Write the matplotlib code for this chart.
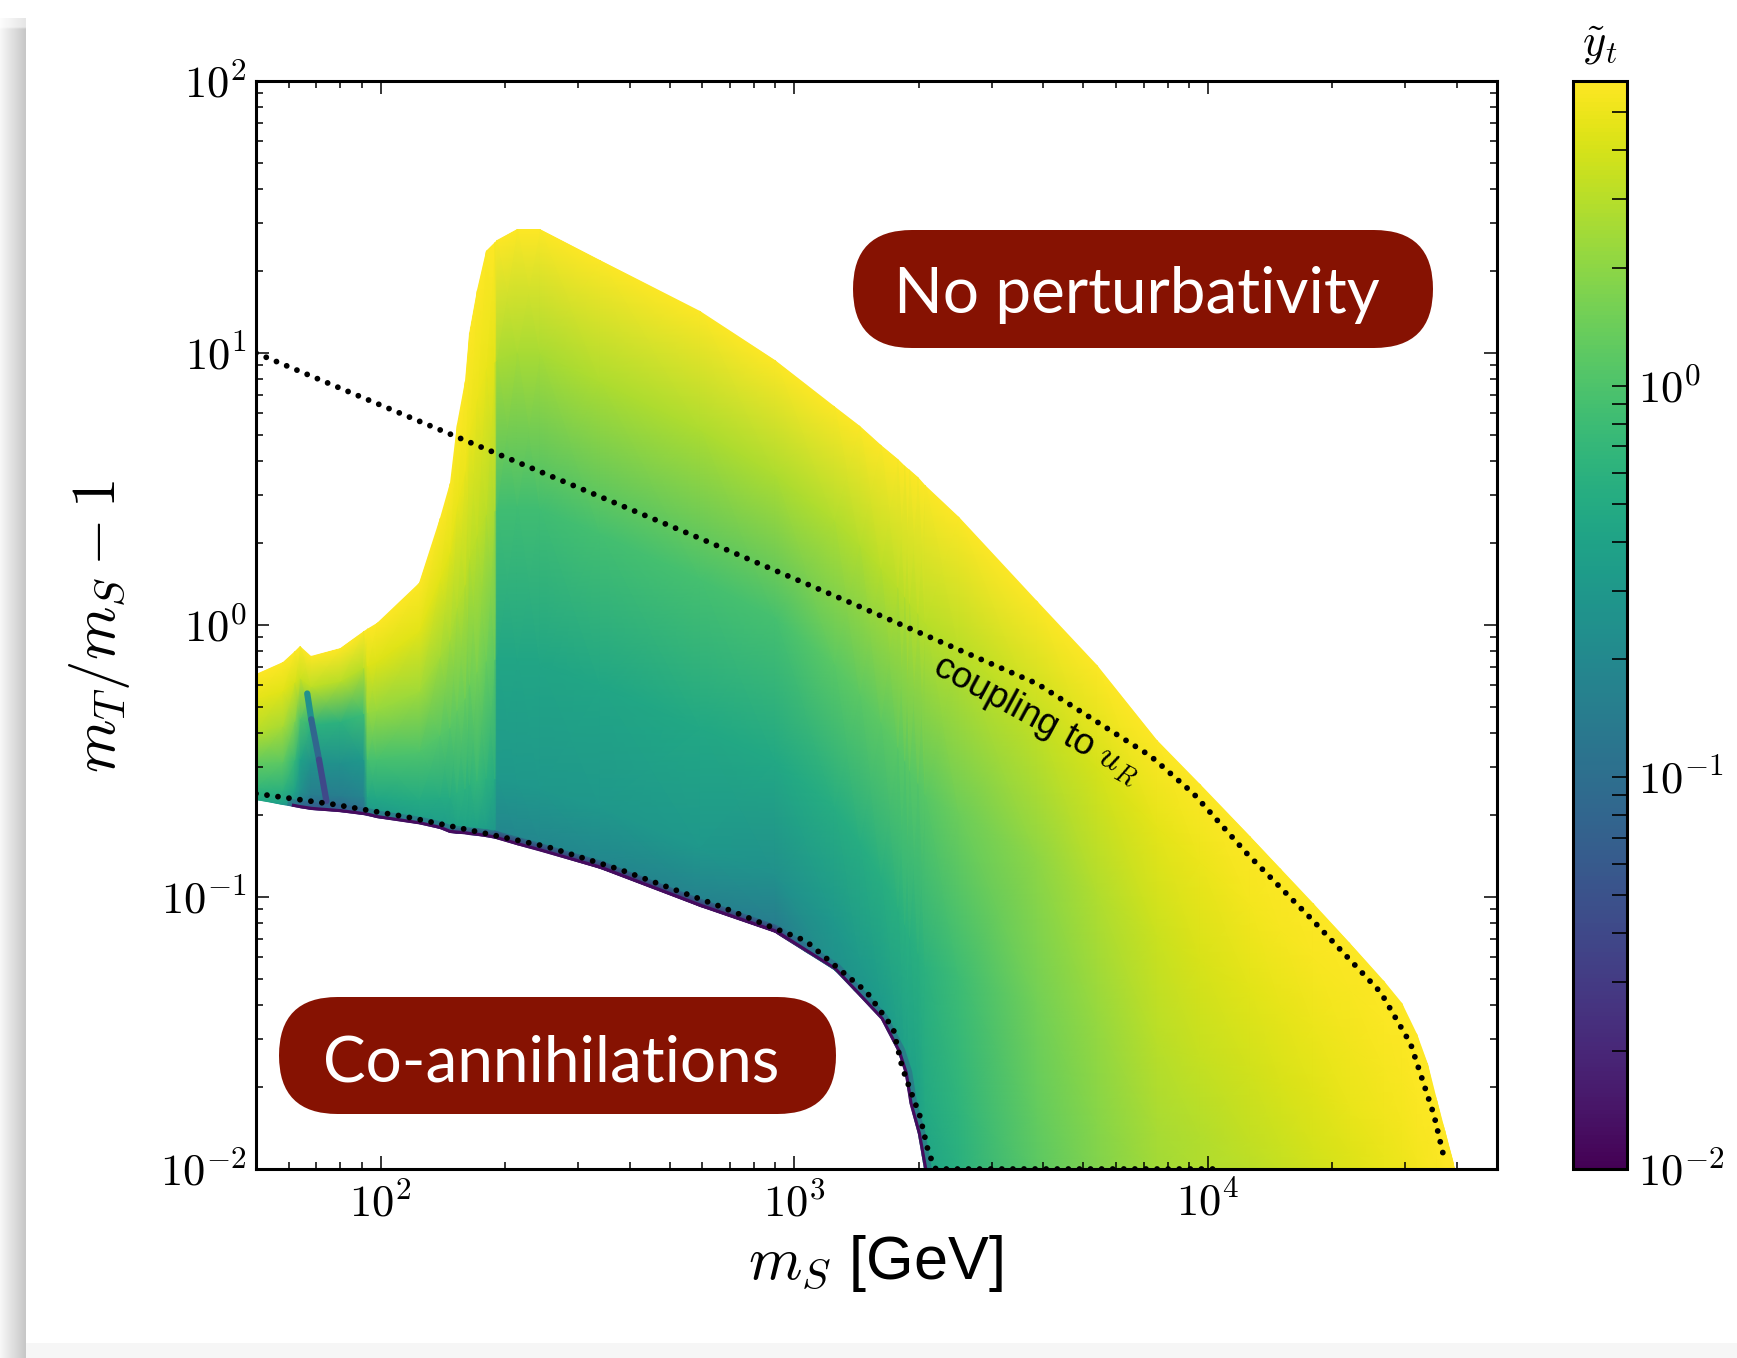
import matplotlib

matplotlib.use("Agg")
import matplotlib.pyplot as plt
import numpy as np
from matplotlib.collections import LineCollection
from matplotlib.colors import LogNorm
from matplotlib.patches import FancyBboxPatch, Polygon
from matplotlib.ticker import FixedLocator, FuncFormatter, LogLocator, NullFormatter

plt.rcParams["mathtext.fontset"] = "cm"
plt.rcParams["font.family"] = ["Liberation Sans", "DejaVu Sans"]

W, H, DPI = 1737, 1358, 100

# allowed region, column by column: m_S [GeV], lower / upper edge of m_T/m_S - 1
ms_cols = [50, 58, 62, 64, 68, 80, 91, 93, 98, 124, 139, 147, 153, 160, 164, 171, 180, 189,
           191, 214, 243, 340, 593, 900, 1250, 1440, 1620, 1780, 1850, 1900, 1990, 2074,
           2500, 3870, 5400, 7540, 9580, 12650, 15000, 18000, 22000, 26700, 29500, 32100,
           34000, 35900, 37500, 39100, 39700]
dm_lo = [0.227, 0.218, 0.214, 0.212, 0.209, 0.205, 0.200, 0.199, 0.195, 0.185, 0.178, 0.172,
         0.171, 0.170, 0.169, 0.168, 0.166, 0.164, 0.163, 0.155, 0.147, 0.127, 0.092, 0.074,
         0.054, 0.043, 0.0355, 0.027, 0.0225, 0.0174, 0.0135, 0.0095,
         0.0095, 0.0095, 0.0095, 0.0095, 0.0095, 0.0095, 0.0095, 0.0095, 0.0095, 0.0095,
         0.0095, 0.0095, 0.0095, 0.0095, 0.0095, 0.0095, 0.0095]
dm_hi = [0.66, 0.73, 0.80, 0.84, 0.77, 0.82, 0.95, 0.97, 1.02, 1.43, 2.48, 3.32, 5.5, 7.9,
         11.8, 17.0, 23.8, 25.5, 26.0, 28.5, 28.5, 21.9, 14.3, 9.4, 6.4, 5.4, 4.6, 4.07,
         3.85, 3.72, 3.5, 3.27, 2.5, 1.23, 0.713, 0.377, 0.261, 0.167, 0.127, 0.095, 0.0678,
         0.0492, 0.0408, 0.0314, 0.0244, 0.0179, 0.0139, 0.0108, 0.0096]

# bottom of the colour field in each column (below the edge it is clipped away)
field_floor = dm_lo[:24] + [0.05, 0.035, 0.025, 0.018, 0.015, 0.013, 0.011] + [0.0095] * 18

# position of each row between floor and upper edge (fraction of the log distance)
row_frac = [0.0, 0.015, 0.1, 0.3, 0.55, 0.8, 1.0]

# y_t on every node, one list per column (bottom -> top)
yt_cols = [
    [0.45, 0.5, 0.7, 1.3, 3.0, 4.6, 6],
    [0.3, 0.4, 0.6, 1.2, 2.6, 4.5, 6],
    [0.12, 0.25, 0.4, 0.7, 1.8, 4.0, 6],
    [0.05, 0.15, 0.25, 0.4, 1.0, 3.6, 6],
    [0.02, 0.08, 0.15, 0.25, 0.6, 3.2, 6],
    [0.02, 0.08, 0.15, 0.25, 0.6, 3.0, 6],
    [0.02, 0.1, 0.18, 0.3, 0.8, 3.0, 6],
    [0.02, 0.3, 0.45, 0.9, 2.2, 4.3, 6],
    [0.02, 0.3, 0.45, 0.9, 2.2, 4.3, 6],
    [0.02, 0.35, 0.5, 1.0, 2.4, 4.5, 6],
    [0.02, 0.35, 0.5, 1.1, 2.5, 4.5, 6],
    [0.02, 0.35, 0.5, 1.1, 2.5, 4.5, 6],
    [0.02, 0.4, 0.6, 1.3, 2.8, 4.8, 6],
    [0.02, 0.4, 0.6, 1.4, 3.0, 5.0, 6],
    [0.02, 0.4, 0.6, 1.4, 3.0, 5.0, 6],
    [0.02, 0.4, 0.7, 1.6, 3.2, 5.0, 6],
    [0.02, 0.35, 0.6, 1.4, 3.0, 4.8, 6],
    [0.02, 0.3, 0.5, 1.2, 2.6, 4.5, 6],
    [0.012, 0.2, 0.3, 0.43, 0.85, 2.6, 6],
    [0.012, 0.2, 0.3, 0.43, 0.85, 2.6, 6],
    [0.012, 0.2, 0.3, 0.43, 0.85, 2.6, 6],
    [0.012, 0.2, 0.3, 0.44, 0.88, 2.7, 6],
    [0.012, 0.18, 0.3, 0.46, 0.9, 2.7, 6],
    [0.012, 0.15, 0.25, 0.46, 0.9, 2.7, 6],
    [0.2, 0.25, 0.3, 0.54, 1.18, 2.8, 6],
    [0.25, 0.26, 0.32, 0.54, 1.2, 2.9, 6],
    [0.25, 0.26, 0.33, 0.55, 1.19, 3.0, 6],
    [0.25, 0.27, 0.35, 0.57, 1.18, 3.0, 6],
    [0.25, 0.27, 0.37, 0.58, 1.15, 3.0, 6],
    [0.3, 0.3, 0.38, 0.55, 1.13, 3.0, 6],
    [0.33, 0.33, 0.4, 0.56, 1.12, 3.0, 6],
    [0.4, 0.42, 0.47, 0.6, 1.15, 3.0, 6],
    [0.58, 0.58, 0.64, 0.8, 1.42, 3.1, 6],
    [1.2, 1.2, 1.3, 1.55, 2.0, 3.4, 6],
    [1.8, 1.8, 1.9, 2.2, 2.8, 4.0, 6],
    [2.5, 2.5, 2.6, 3.0, 3.6, 4.6, 6],
    [2.8, 2.8, 2.9, 3.4, 4.1, 5.0, 6],
    [3.1, 3.1, 3.3, 3.8, 4.5, 5.4, 6],
    [3.4, 3.4, 3.6, 4.1, 4.7, 5.5, 6],
    [3.8, 3.8, 4.0, 4.4, 5.0, 5.6, 6],
    [4.3, 4.3, 4.4, 4.8, 5.2, 5.7, 6],
    [4.8, 4.8, 4.9, 5.2, 5.5, 5.8, 6],
    [5.0, 5.0, 5.1, 5.4, 5.6, 5.85, 6],
    [5.3, 5.3, 5.4, 5.6, 5.8, 5.9, 6],
    [5.5, 5.5, 5.6, 5.7, 5.85, 5.95, 6],
    [5.7, 5.7, 5.7, 5.8, 5.9, 6.0, 6],
    [5.9, 5.9, 5.9, 5.9, 5.95, 6, 6],
    [6, 6, 6, 6, 6, 6, 6],
    [6, 6, 6, 6, 6, 6, 6],
]

# narrow dip next to m_S ~ m_h / 2
dip_ms = [66.5, 68.0, 71.0, 74.0]
dip_dm = [0.56, 0.45, 0.32, 0.225]
dip_yt = [0.25, 0.08, 0.04, 0.02]

# relic-density contours
lo_dot_ms = [50, 77.1, 115.6, 183.6, 253, 380, 663, 1066, 1290, 1496, 1735, 1823, 1902,
             2012, 2115, 2200, 10500]
lo_dot_dm = [0.240, 0.219, 0.197, 0.170, 0.153, 0.126, 0.0923, 0.069, 0.054, 0.0448, 0.0329,
             0.0237, 0.0198, 0.0157, 0.0114, 0.0100, 0.0100]
hi_dot_ms = [50, 115, 593, 1365, 3870, 7265, 9230, 12400, 17750, 26200, 30900, 35200, 37500]
hi_dot_dm = [10.0, 5.89, 2.08, 1.21, 0.608, 0.330, 0.240, 0.145, 0.0834, 0.0445, 0.0289,
             0.0158, 0.0105]

YT_MIN, YT_MAX = 0.01, 6.0
BOX_RED = "#861202"


def px_rect(x0, y0, x1, y1):
    """figure-fraction rect from pixel box (origin top-left)"""
    return [x0 / W, 1 - y1 / H, (x1 - x0) / W, (y1 - y0) / H]


def pow10(v, _pos=None):
    return r"$10^{%d}$" % int(round(np.log10(v)))


fig = plt.figure(figsize=(W / DPI, H / DPI), dpi=DPI)

# slide card with a soft shadow on the left
bg = fig.add_axes([0, 0, 1, 1], zorder=-10)
bg.set_xlim(0, W)
bg.set_ylim(H, 0)
bg.axis("off")
shade = np.linspace(0.97, 0.78, 26)[None, :] * np.ones((670, 1))
shade[:5] = np.linspace(0.99, 0.9, 26)[None, :]
bg.imshow(shade, cmap="gray", vmin=0, vmax=1, extent=(0, 26, H, 18), aspect="auto",
          interpolation="bilinear")
bg.add_patch(plt.Rectangle((26, 1343), W - 26, H - 1343, fc="#f6f6f6", ec="none"))

ax = fig.add_axes(px_rect(256, 81, 1497, 1169))
cax = fig.add_axes(px_rect(1573, 81, 1627, 1169))

cmap = plt.get_cmap("viridis")
norm = LogNorm(YT_MIN, YT_MAX)

frac = np.array(row_frac)[:, None]
lo = np.array(field_floor)[None, :]
hi = np.array(dm_hi)[None, :]
Y = lo * (hi / lo) ** frac
X = np.broadcast_to(np.array(ms_cols, dtype=float)[None, :], Y.shape)
C = np.array(yt_cols, dtype=float).T
mesh = ax.pcolormesh(X, Y, C, shading="gouraud", cmap=cmap, norm=norm, zorder=1)

# outline of the allowed region, used to clip the field and the rim
outline = list(zip(ms_cols, dm_hi)) + list(zip(ms_cols, dm_lo))[::-1]
region = Polygon(outline, closed=True, transform=ax.transData)
mesh.set_clip_path(region)

# dark dip streak
pts = np.column_stack([dip_ms, dip_dm]).reshape(-1, 1, 2)
segs = np.concatenate([pts[:-1], pts[1:]], axis=1)
lc = LineCollection(segs, colors=cmap(norm(np.array(dip_yt[:-1]))), linewidths=4.5,
                    capstyle="round", zorder=2)
ax.add_collection(lc)

# dark rim along the co-annihilation edge
rim = [i for i, m in enumerate(ms_cols) if 62 <= m <= 2074]
rim_x = [ms_cols[i] for i in rim]
rim_y = [dm_lo[i] for i in rim]
halo, = ax.plot(rim_x, rim_y, color=cmap(norm(0.06)), lw=11, alpha=0.45, zorder=2)
edge, = ax.plot(rim_x, rim_y, color=cmap(norm(0.012)), lw=4.5, zorder=2)
halo.set_clip_path(region)
edge.set_clip_path(region)

dots = dict(color="black", lw=4.2, linestyle=(0, (0.001, 1.9)), dash_capstyle="round",
            zorder=3)
ax.plot(lo_dot_ms, lo_dot_dm, **dots)
ax.plot(hi_dot_ms, hi_dot_dm, **dots)

ax.text(3850, 0.45, r"coupling to $u_R$", rotation=-28.5, rotation_mode="anchor",
        ha="center", va="center", fontsize=26.5, zorder=4)

ax.set_xscale("log")
ax.set_yscale("log")
ax.set_xlim(50, 5e4)
ax.set_ylim(1e-2, 1e2)
ax.xaxis.set_major_locator(FixedLocator([1e2, 1e3, 1e4]))
ax.yaxis.set_major_locator(FixedLocator([1e-2, 1e-1, 1e0, 1e1, 1e2]))
for axis in (ax.xaxis, ax.yaxis):
    axis.set_major_formatter(FuncFormatter(pow10))
    axis.set_minor_locator(LogLocator(base=10, subs=np.arange(2, 10), numticks=20))
    axis.set_minor_formatter(NullFormatter())
ax.tick_params(which="both", direction="in", top=True, right=True, width=1.1, color="black")
ax.tick_params(which="major", length=9.4, labelsize=32)
ax.tick_params(which="minor", length=4.7)
ax.tick_params(axis="x", which="major", pad=10)
ax.tick_params(axis="y", which="major", pad=7)
for sp in ax.spines.values():
    sp.set_linewidth(2.2)

fig.text(100 / W, 1 - 626 / H, r"$m_T/m_S - 1$", rotation=90, ha="center", va="center",
         fontsize=44)
fig.text(875 / W, 1 - 1263 / H, r"$m_S$ [GeV]", ha="center", va="center", fontsize=44)

cb = fig.colorbar(mesh, cax=cax)
cb.outline.set_linewidth(2.2)
cax.yaxis.set_major_locator(FixedLocator([1e-2, 1e-1, 1e0]))
cax.yaxis.set_major_formatter(FuncFormatter(pow10))
cax.yaxis.set_minor_locator(LogLocator(base=10, subs=np.arange(2, 10), numticks=20))
cax.yaxis.set_minor_formatter(NullFormatter())
cax.tick_params(which="both", direction="in", length=10.5, width=1.2, color="black",
                labelsize=32, pad=8)
fig.text(1600 / W, 1 - 46 / H, r"$\tilde{y}_t$", ha="center", va="center", fontsize=32)

# region labels on top of everything
ov = fig.add_axes([0, 0, 1, 1], zorder=10)
ov.set_xlim(0, W)
ov.set_ylim(H, 0)
ov.axis("off")
ov.patch.set_alpha(0)
for (x0, y0, w, h), label, (tx, ty) in [
    ((853, 230, 580, 118), "No perturbativity", (1137, 313)),
    ((279, 997, 557, 117), "Co-annihilations", (551, 1081)),
]:
    ov.add_patch(FancyBboxPatch((x0, y0), w, h, boxstyle=f"round,pad=0,rounding_size={h / 2}",
                                fc=BOX_RED, ec="none"))
    ov.text(tx, ty, label, ha="center", va="baseline", color="white", fontsize=46,
            family="Lato")

fig.savefig("out.png", dpi=DPI)
